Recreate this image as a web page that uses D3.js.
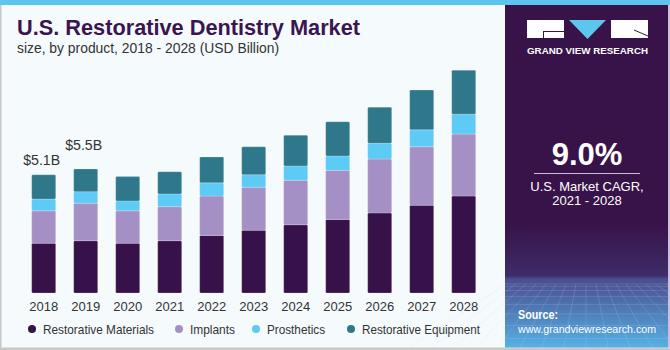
<!DOCTYPE html>
<html>
<head>
<meta charset="utf-8">
<script src="https://cdn.jsdelivr.net/npm/d3@7"></script>
<style>
  body { margin: 0; background: #fff; }
  svg { display: block; font-family: "Liberation Sans", Arial, sans-serif; }
</style>
</head>
<body>
<div id="chart"></div>
<script>
// chart data (USD Billion)
var years = ["2018", "2019", "2020", "2021", "2022", "2023", "2024", "2025", "2026", "2027", "2028"];
var materials = [2.15, 2.26, 2.15, 2.26, 2.49, 2.71, 2.95, 3.18, 3.46, 3.79, 4.19];
var implants = [1.40, 1.62, 1.40, 1.47, 1.70, 1.86, 1.92, 2.12, 2.33, 2.53, 2.68];
var prosthetics = [0.51, 0.50, 0.43, 0.55, 0.57, 0.54, 0.62, 0.62, 0.68, 0.73, 0.86];
var equipment = [1.05, 0.98, 1.05, 0.96, 1.12, 1.21, 1.33, 1.48, 1.56, 1.72, 1.90];
var seriesNames = ["Restorative Materials", "Implants", "Prosthetics", "Restorative Equipment"];
var seriesColors = ["#37114a", "#a490c5", "#5dcbf6", "#2f788b"];
var valueLabels = [{ year: "2018", text: "$5.1B" }, { year: "2019", text: "$5.5B" }];

var width = 670, height = 350;

var svg = d3.select("#chart").append("svg")
    .attr("width", width)
    .attr("height", height);

// background + frame
svg.append("rect").attr("width", width).attr("height", height).attr("fill", "#f5fafd");
svg.append("rect").attr("width", width).attr("height", 5).attr("fill", "#5cc6ee");
svg.append("rect").attr("x", 0).attr("y", 5).attr("width", 1.5).attr("height", height - 5).attr("fill", "#c8c8c8");
svg.append("rect").attr("x", 0).attr("y", 347.5).attr("width", width).attr("height", 2.5).attr("fill", "#c8c8c8");

// title
svg.append("text")
    .attr("x", 17).attr("y", 35)
    .attr("fill", "#3a1550")
    .attr("textLength", 343).attr("lengthAdjust", "spacingAndGlyphs")
    .style("font-size", "22px").style("font-weight", "bold")
    .text("U.S. Restorative Dentistry Market");
svg.append("text")
    .attr("x", 17).attr("y", 53)
    .attr("fill", "#333")
    .attr("textLength", 262).attr("lengthAdjust", "spacingAndGlyphs")
    .style("font-size", "14px")
    .text("size, by product, 2018 - 2028 (USD Billion)");

// table for the stack
var table = years.map(function (y, i) {
    return { year: y, m: materials[i], im: implants[i], p: prosthetics[i], e: equipment[i] };
});
var keys = ["m", "im", "p", "e"];
var stacked = d3.stack().keys(keys)(table);

var xScale = d3.scaleBand()
    .domain(years)
    .range([22.7, 484.7])
    .paddingInner(0.4286)
    .paddingOuter(0.2143);

var yScale = d3.scaleLinear()
    .domain([0, 10])
    .range([293, 61.6]);

var bars = svg.append("g");
stacked.forEach(function (layer, li) {
    bars.selectAll(".s" + li)
        .data(layer)
        .enter()
        .append("rect")
        .attr("x", function (d) { return xScale(d.data.year); })
        .attr("y", function (d) { return yScale(d[1]); })
        .attr("width", xScale.bandwidth())
        .attr("height", function (d) { return yScale(d[0]) - yScale(d[1]); })
        .attr("rx", 1.2)
        .attr("fill", seriesColors[li])
        .attr("stroke", "rgba(255,255,255,0.25)")
        .attr("stroke-width", 0.8);
});

// x axis labels
var xAxis = svg.append("g")
    .attr("transform", "translate(0,293)")
    .call(d3.axisBottom(xScale).tickSize(0).tickPadding(9));
xAxis.select(".domain").remove();
xAxis.selectAll("text")
    .attr("fill", "#333")
    .style("font-size", "13px")
    .style("font-family", "Liberation Sans, Arial, sans-serif");

// value labels
var totals = {};
table.forEach(function (d) { totals[d.year] = d.m + d.im + d.p + d.e; });
var labelGap = [10, 19];
svg.selectAll(".vlab")
    .data(valueLabels)
    .enter()
    .append("text")
    .attr("x", function (d) { return xScale(d.year) + xScale.bandwidth() / 2 - 2; })
    .attr("y", function (d, i) { return yScale(totals[d.year]) - labelGap[i]; })
    .attr("text-anchor", "middle")
    .attr("fill", "#333")
    .attr("textLength", 37).attr("lengthAdjust", "spacingAndGlyphs")
    .style("font-size", "15px")
    .text(function (d) { return d.text; });

// legend
var legendX = [32, 179, 256, 351];
var legendW = [111, 45, 58, 118];
var legend = svg.selectAll(".leg")
    .data(seriesNames)
    .enter()
    .append("g")
    .attr("transform", function (d, i) { return "translate(" + legendX[i] + ",329)"; });
legend.append("circle").attr("r", 4).attr("fill", function (d, i) { return seriesColors[i]; });
legend.append("text")
    .attr("x", 11).attr("y", 4.5)
    .attr("fill", "#333")
    .attr("textLength", function (d, i) { return legendW[i]; })
    .attr("lengthAdjust", "spacingAndGlyphs")
    .style("font-size", "13px")
    .text(function (d) { return d; });

// right panel
var defs = svg.append("defs");
var grad = defs.append("linearGradient").attr("id", "panelGrad")
    .attr("x1", 0).attr("y1", 0).attr("x2", 0).attr("y2", 1);
grad.append("stop").attr("offset", "0").attr("stop-color", "#381349");
grad.append("stop").attr("offset", "0.64").attr("stop-color", "#381349");
grad.append("stop").attr("offset", "0.79").attr("stop-color", "#3e2c69");
grad.append("stop").attr("offset", "0.80").attr("stop-color", "#4a4d8e");
grad.append("stop").attr("offset", "1").attr("stop-color", "#56b1e4");

var panel = svg.append("g");
panel.append("rect")
    .attr("x", 505).attr("y", 5).attr("width", 163).attr("height", 342.5)
    .attr("fill", "url(#panelGrad)");
panel.append("rect")
    .attr("x", 668).attr("y", 5).attr("width", 2).attr("height", 342.5)
    .attr("fill", "#cdbfd8");

// faint grid at the bottom of the panel
var grid = panel.append("g").attr("stroke", "rgba(200,215,255,0.25)").attr("stroke-width", 0.7);
d3.range(0, 9).forEach(function (i) {
    var y = 284 + i * i * 0.9 + i * 1.5;
    if (y < 347) grid.append("line").attr("x1", 505).attr("x2", 668).attr("y1", y).attr("y2", y);
});
d3.range(-8, 9).forEach(function (i) {
    grid.append("line")
        .attr("x1", 586 + i * 10).attr("y1", 284)
        .attr("x2", 586 + i * 22).attr("y2", 347);
});

// logo
panel.append("rect").attr("x", 527).attr("y", 20).attr("width", 37).attr("height", 18).attr("fill", "#fff");
panel.append("path").attr("d", "M543,31.5 H564 M543.5,31 V38").attr("stroke", "#381349").attr("stroke-width", 1).attr("fill", "none");
panel.append("path").attr("d", "M569,20 L606,20 L587.5,39 Z").attr("fill", "#5cc6ee");
panel.append("rect").attr("x", 611).attr("y", 20).attr("width", 37).attr("height", 18).attr("fill", "#fff");
panel.append("path").attr("d", "M634,30 L648,36").attr("stroke", "#381349").attr("stroke-width", 1);
panel.append("text")
    .attr("x", 527).attr("y", 54)
    .attr("fill", "#fff")
    .attr("textLength", 121).attr("lengthAdjust", "spacingAndGlyphs")
    .style("font-size", "9.5px").style("font-weight", "bold")
    .text("GRAND VIEW RESEARCH");

// CAGR block
panel.append("text")
    .attr("x", 587).attr("y", 165)
    .attr("text-anchor", "middle")
    .attr("fill", "#fff")
    .style("font-size", "31px").style("font-weight", "bold")
    .text("9.0%");
panel.append("line")
    .attr("x1", 534).attr("x2", 640).attr("y1", 173.5).attr("y2", 173.5)
    .attr("stroke", "#c9bdd6").attr("stroke-width", 1.2);
panel.append("text")
    .attr("x", 587).attr("y", 191)
    .attr("text-anchor", "middle")
    .attr("fill", "#fff")
    .style("font-size", "13px")
    .text("U.S. Market CAGR,");
panel.append("text")
    .attr("x", 587).attr("y", 205)
    .attr("text-anchor", "middle")
    .attr("fill", "#fff")
    .style("font-size", "13px")
    .text("2021 - 2028");

// source
panel.append("text")
    .attr("x", 518).attr("y", 319)
    .attr("fill", "#fff")
    .attr("textLength", 40).attr("lengthAdjust", "spacingAndGlyphs")
    .style("font-size", "12px").style("font-weight", "bold")
    .text("Source:");
panel.append("text")
    .attr("x", 518).attr("y", 333)
    .attr("fill", "#fff")
    .attr("textLength", 138).attr("lengthAdjust", "spacingAndGlyphs")
    .style("font-size", "11px")
    .text("www.grandviewresearch.com");
</script>
</body>
</html>
